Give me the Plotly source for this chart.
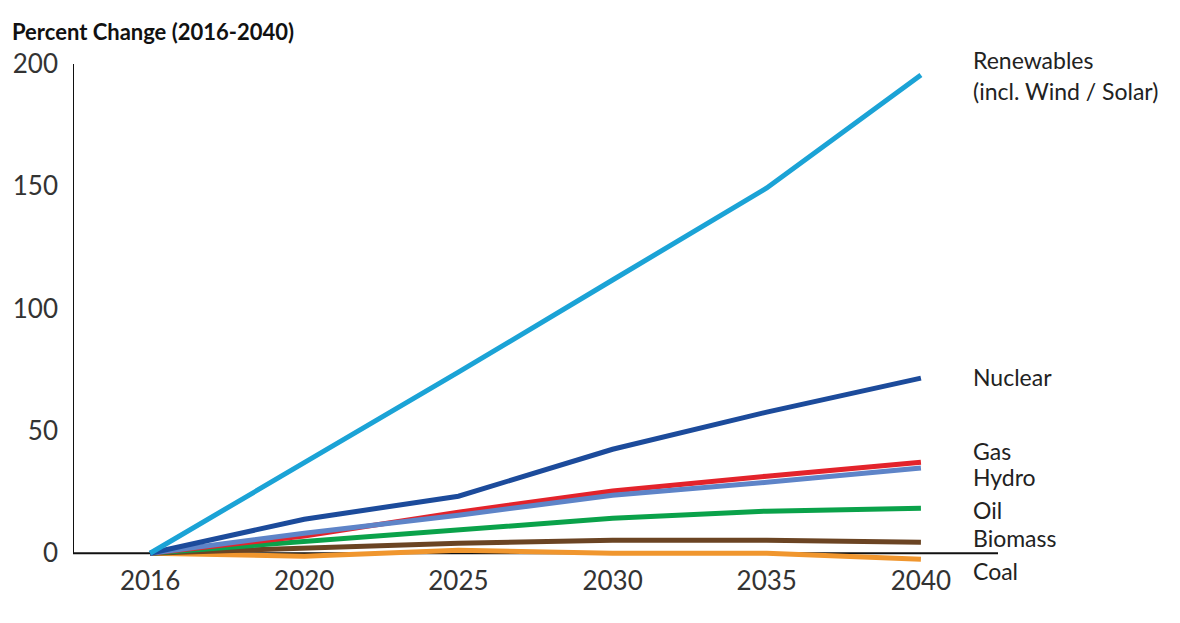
import plotly.graph_objects as go

years = ["2016", "2020", "2025", "2030", "2035", "2040"]
renewables = [0, 36.8, 74.0, 111.7, 149.3, 195.5]
nuclear = [0, 13.9, 23.3, 42.5, 57.7, 71.6]
gas = [0, 7.0, 16.8, 25.4, 31.5, 37.2]
hydro = [0, 8.2, 15.5, 23.7, 29.0, 34.8]
oil = [0, 4.9, 9.8, 14.3, 17.2, 18.4]
biomass = [0, 2.0, 4.1, 5.3, 5.3, 4.5]
coal = [0, -1.2, 1.2, 0.0, 0.0, -2.5]

series = [
    ("Coal", coal, "#f0962e"),
    ("Biomass", biomass, "#6b4423"),
    ("Oil", oil, "#0aa24a"),
    ("Gas", gas, "#e3232b"),
    ("Hydro", hydro, "#5e84c8"),
    ("Nuclear", nuclear, "#1c4b9b"),
    ("Renewables", renewables, "#1ba3d6"),
]

yticks = [0, 50, 100, 150, 200]

FONT = "Lato"

fig = go.Figure()
for name, vals, col in series:
    fig.add_trace(go.Scatter(x=years, y=vals, mode="lines", name=name,
                             line=dict(color=col, width=5), hoverinfo="x+y+name"))

# axis lines
fig.add_shape(type="line", xref="x", yref="y", x0=-0.5, x1=5.5, y0=0, y1=0,
              line=dict(color="#111", width=2), layer="below")
fig.add_shape(type="line", xref="x", yref="y", x0=-0.5, x1=-0.5, y0=0, y1=200,
              line=dict(color="#111", width=2), layer="below")

labels = [
    ("Renewables", 60),
    ("(incl. Wind / Solar)", 91),
    ("Nuclear", 377),
    ("Gas", 451),
    ("Hydro", 477),
    ("Oil", 510),
    ("Biomass", 538),
    ("Coal", 571),
]
top, bot = 64, 563
for txt, py in labels:
    fig.add_annotation(text=txt, xref="paper", yref="paper",
                       x=(971 - 73) / 925, y=(bot - py) / (bot - top),
                       xanchor="left", yanchor="middle", showarrow=False,
                       font=dict(family=FONT, size=23, color="#222"))

fig.add_annotation(text="<b>Percent Change (2016-2040)</b>", xref="paper", yref="paper",
                   x=-63 / 925, y=(bot - 31) / (bot - top), xanchor="left", yanchor="middle",
                   showarrow=False, font=dict(family=FONT, size=22, color="#111"))

fig.update_layout(
    width=1172, height=615,
    margin=dict(l=65, r=182, t=56, b=60, autoexpand=False),
    paper_bgcolor="white", plot_bgcolor="white",
    showlegend=False,
    font=dict(family=FONT, color="#333"),
    xaxis=dict(type="category", range=[-0.5, 5.5], showgrid=False, zeroline=False,
               showline=False, ticks="", automargin=False,
               tickfont=dict(size=26, color="#333")),
    yaxis=dict(range=[-4, 200], tickvals=yticks, showgrid=False, zeroline=False,
               showline=False, ticks="", ticklabelstandoff=14, automargin=False,
               tickfont=dict(size=26, color="#333")),
)

fig.write_html("out.html")
